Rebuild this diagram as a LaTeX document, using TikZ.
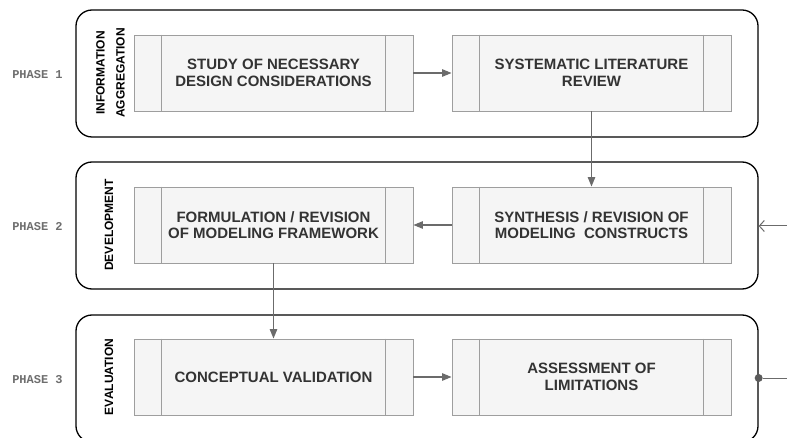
\documentclass[tikz,border=0pt]{standalone}
\usepackage{fontspec}
\setmainfont{Liberation Sans}
\newfontfamily\phasefont{Liberation Mono}
\usetikzlibrary{arrows.meta}
\definecolor{boxfill}{HTML}{F5F5F5}
\definecolor{boxline}{HTML}{9E9E9E}
\definecolor{boxtext}{HTML}{333333}
\definecolor{flow}{HTML}{6B6B6B}
\definecolor{phasegrey}{HTML}{6E6E6E}
\tikzset{
  phasebox/.style={draw=black, line width=1.3pt, rounded corners=16pt,
    minimum width=682pt, minimum height=127pt, inner sep=0pt},
  procbox/.style={draw=boxline, fill=boxfill, line width=0.9pt,
    minimum width=279pt, minimum height=76pt, inner sep=0pt, align=center,
    text=boxtext, font=\bfseries\fontsize{15}{16.7}\selectfont},
  divider/.style={draw=boxline, line width=0.9pt},
  phaselabel/.style={text=phasegrey, font=\phasefont\bfseries\fontsize{12}{14}\selectfont},
  stagelabel/.style={rotate=90, align=center, text=black,
    font=\bfseries\fontsize{12}{20}\selectfont},
  flowarrow/.style={draw=flow, line width=1.2pt, -{Triangle[length=9.5pt,width=7.5pt]}},
  inarrow/.style={draw=flow, line width=1pt, -{Straight Barb[length=5pt,width=11pt]}},
  joint/.style={circle, fill=flow!85!black, inner sep=0pt, minimum size=8pt},
}
\begin{document}
\begin{tikzpicture}[x=1pt,y=-1pt]
  \useasboundingbox (0,0) rectangle (787,438);

  % phase containers
  \node[phasebox] (p1) at (417,73.5) {};
  \node[phasebox] (p2) at (417,225.5) {};
  \node[phasebox] (p3) at (417,378.5) {};

  % phase captions
  \node[phaselabel] (l1) at (37.5,74.5) {PHASE 1};
  \node[phaselabel] (l2) at (37.5,226.5) {PHASE 2};
  \node[phaselabel] (l3) at (37.5,379.5) {PHASE 3};

  % stage names
  \node[stagelabel] (s1) at (110.5,73) {INFORMATION\\AGGREGATION};
  \node[stagelabel] (s2) at (109,225) {DEVELOPMENT};
  \node[stagelabel] (s3) at (109,377) {EVALUATION};

  % process steps
  \node[procbox] (a) at (273.5,73) {STUDY OF NECESSARY\\DESIGN CONSIDERATIONS};
  \node[procbox] (b) at (591.5,73) {SYSTEMATIC LITERATURE\\REVIEW};
  \node[procbox] (c) at (273.5,225) {FORMULATION / REVISION\\OF MODELING FRAMEWORK};
  \node[procbox] (d) at (591.5,225) {SYNTHESIS / REVISION OF\\MODELING\ \ CONSTRUCTS};
  \node[procbox] (e) at (273.5,377) {CONCEPTUAL VALIDATION};
  \node[procbox] (f) at (591.5,377) {ASSESSMENT OF\\LIMITATIONS};

  % side bars of the process steps
  \foreach \n in {a,b,c,d,e,f} {
    \draw[divider] ([xshift=28pt]\n.north west) -- ([xshift=28pt]\n.south west);
    \draw[divider] ([xshift=-28pt]\n.north east) -- ([xshift=-28pt]\n.south east);
  }

  % flow between steps
  \draw[flowarrow] (a.east) -- (b.west);
  \draw[flowarrow] (b.south) -- (d.north);
  \draw[flowarrow] (d.west) -- (c.east);
  \draw[flowarrow] (c.south) -- (e.north);
  \draw[flowarrow] (e.east) -- (f.west);

  % feedback loop ends
  \coordinate (fin) at (787,226);
  \coordinate (fout) at (787,378);
  \draw[inarrow] (fin) -- (p2.east |- fin);
  \node[joint] (j) at (p3.east |- fout) {};
  \draw[draw=flow, line width=1pt] (j) -- (fout);
\end{tikzpicture}
\end{document}
